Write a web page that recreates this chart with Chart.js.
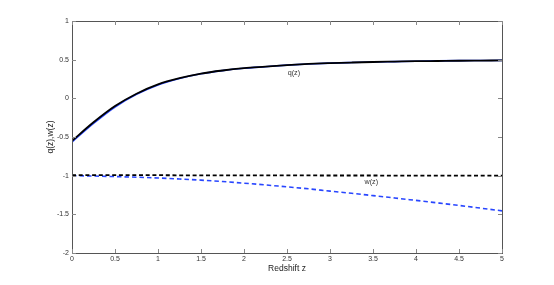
<!DOCTYPE html>
<html>
<head>
<meta charset="utf-8">
<script src="https://cdn.jsdelivr.net/npm/chart.js@4/dist/chart.umd.min.js"></script>
<style>
  body { margin: 0; background: #fff; }
  #wrap { width: 554px; height: 285px; }
</style>
</head>
<body>
<div id="wrap"><canvas id="chart" width="554" height="285"></canvas></div>
<script>
// redshift grid
const redshift = [0, 0.25, 0.5, 0.75, 1, 1.25, 1.5, 1.75, 2, 2.25, 2.5, 2.75, 3, 3.25, 3.5, 3.75, 4, 4.25, 4.5, 4.75, 5];

// deceleration parameter q(z)
const qBlack = [-0.55, -0.31, -0.10, 0.06, 0.18, 0.26, 0.32, 0.36, 0.39, 0.41, 0.43, 0.445, 0.455, 0.463, 0.47, 0.475, 0.48, 0.483, 0.486, 0.488, 0.49];
const qBlue  = [-0.565, -0.325, -0.112, 0.052, 0.174, 0.256, 0.317, 0.358, 0.388, 0.409, 0.429, 0.444, 0.455, 0.463, 0.47, 0.475, 0.48, 0.484, 0.487, 0.489, 0.491];

// equation of state w(z)
const wBlack = [-0.992, -0.993, -0.993, -0.994, -0.994, -0.995, -0.995, -0.996, -0.996, -0.997, -0.997, -0.997, -0.998, -0.998, -0.998, -0.999, -0.999, -0.999, -1.0, -1.0, -1.0];
const wBlue  = [-1.0, -1.005, -1.012, -1.02, -1.03, -1.043, -1.058, -1.076, -1.097, -1.12, -1.145, -1.17, -1.2, -1.228, -1.258, -1.288, -1.32, -1.352, -1.385, -1.42, -1.455];

// axis ticks
const xTicks = [0, 0.5, 1, 1.5, 2, 2.5, 3, 3.5, 4, 4.5, 5];
const yTicks = [-2, -1.5, -1, -0.5, 0, 0.5, 1];

// curve labels (data coordinates)
const curveLabels = [
    { text: 'q(z)', x: 2.58, y: 0.33 },
    { text: 'w(z)', x: 3.48, y: -1.08 }
];

const toPoints = (ys) => redshift.map((z, i) => ({ x: z, y: ys[i] }));

const FONT = '"Liberation Sans", Arial, Helvetica, sans-serif';

// MATLAB-style box with inward ticks and the curve labels
const boxPlugin = {
    id: 'box',
    afterDraw(chart) {
        const { ctx, chartArea: a, scales: { x, y } } = chart;
        ctx.save();
        ctx.strokeStyle = '#555';
        ctx.lineWidth = 1;
        ctx.strokeRect(Math.round(a.left) + 0.5, Math.round(a.top) + 0.5,
            Math.round(a.right - a.left), Math.round(a.bottom - a.top));
        ctx.strokeStyle = '#888';
        ctx.beginPath();
        xTicks.forEach(v => {
            const px = Math.round(x.getPixelForValue(v)) + 0.5;
            ctx.moveTo(px, a.bottom); ctx.lineTo(px, a.bottom - 4);
            ctx.moveTo(px, a.top); ctx.lineTo(px, a.top + 4);
        });
        yTicks.forEach(v => {
            const py = Math.round(y.getPixelForValue(v)) + 0.5;
            ctx.moveTo(a.left, py); ctx.lineTo(a.left + 4, py);
            ctx.moveTo(a.right, py); ctx.lineTo(a.right - 4, py);
        });
        ctx.stroke();

        ctx.fillStyle = '#333';
        ctx.font = '7.2px ' + FONT;
        ctx.textAlign = 'center';
        ctx.textBaseline = 'middle';
        curveLabels.forEach(l => {
            ctx.fillText(l.text, x.getPixelForValue(l.x), y.getPixelForValue(l.y));
        });
        ctx.restore();
    }
};

// the first dataset is drawn on top, so black curves come first
new Chart(document.getElementById('chart'), {
    type: 'line',
    data: {
        datasets: [
            { data: toPoints(qBlack), borderColor: '#000', borderWidth: 1.8 },
            { data: toPoints(wBlack), borderColor: '#000', borderWidth: 1.8, borderDash: [4, 2.7] },
            { data: toPoints(qBlue), borderColor: 'rgb(40,70,255)', borderWidth: 1.6 },
            { data: toPoints(wBlue), borderColor: 'rgb(40,70,255)', borderWidth: 1.6, borderDash: [4.5, 3] }
        ]
    },
    options: {
        responsive: false,
        animation: false,
        layout: { padding: { left: 0, right: 52, top: 21, bottom: 0 } },
        elements: {
            point: { radius: 0 },
            line: { cubicInterpolationMode: 'monotone', fill: false }
        },
        plugins: { legend: { display: false }, tooltip: { enabled: false } },
        scales: {
            x: {
                type: 'linear',
                min: 0, max: 5,
                afterBuildTicks: (s) => { s.ticks = xTicks.map(v => ({ value: v })); },
                afterFit: (s) => { s.height = 32; },
                grid: { display: false, drawTicks: false },
                border: { display: false },
                ticks: { padding: 2, color: '#333', font: { family: FONT, size: 7 }, maxRotation: 0, autoSkip: false,
                    callback: (v) => String(v) },
                title: { display: true, text: 'Redshift z', color: '#222', font: { family: FONT, size: 8.5 }, padding: { top: 0, bottom: 11 } }
            },
            y: {
                min: -2, max: 1,
                afterBuildTicks: (s) => { s.ticks = yTicks.map(v => ({ value: v })); },
                afterFit: (s) => { s.width = 72; },
                grid: { display: false, drawTicks: false },
                border: { display: false },
                ticks: { padding: 3, color: '#333', font: { family: FONT, size: 7 },
                    callback: (v) => String(v) },
                title: { display: true, text: 'q(z),w(z)', color: '#222', font: { family: FONT, size: 8.5 }, padding: { top: 46, bottom: 0 } }
            }
        }
    },
    plugins: [boxPlugin]
});
</script>
</body>
</html>
